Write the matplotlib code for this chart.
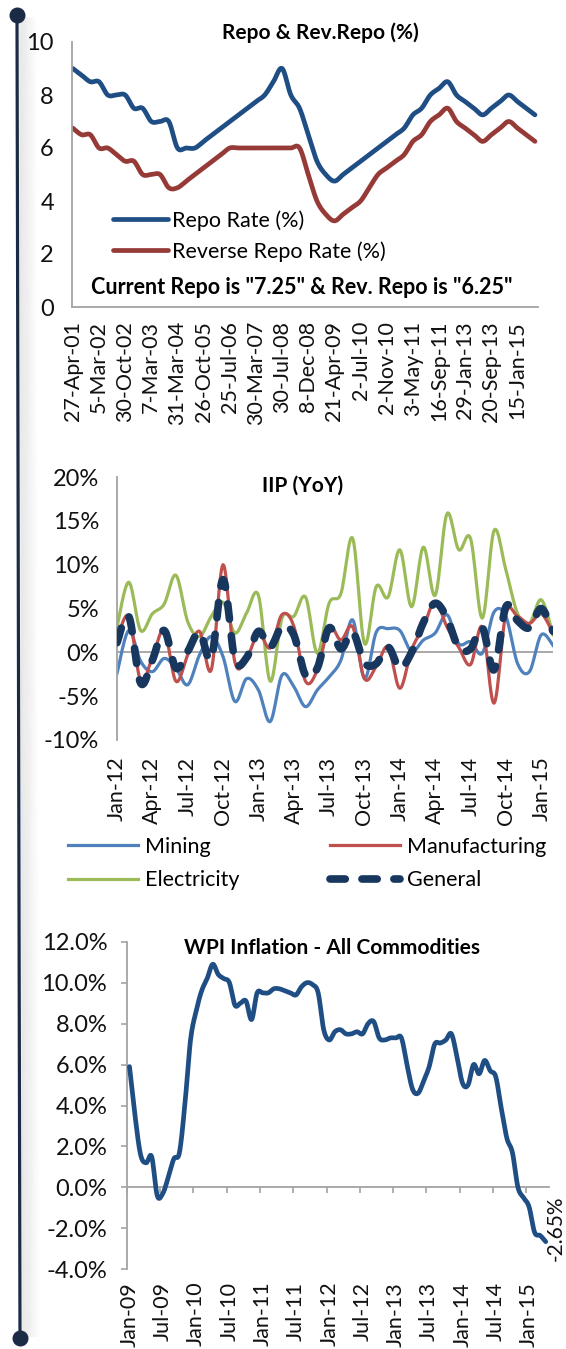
import numpy as np
import matplotlib
matplotlib.use("Agg")
import matplotlib.pyplot as plt
from matplotlib.lines import Line2D
from matplotlib.ticker import FuncFormatter

plt.rcParams['font.family'] = ['Lato', 'DejaVu Sans']
plt.rcParams['lines.scale_dashes'] = False

# ------------------------------------------------------------------ data
repo_rate = [9.0, 8.75, 8.5, 8.5, 8.0, 8.0, 8.0, 7.5, 7.5, 7.0, 7.0, 7.0, 6.0, 6.0, 6.0,
             6.25, 6.5, 6.75, 7.0, 7.25, 7.5, 7.75, 8.0, 8.5, 9.0,
             8.0, 7.5, 6.5, 5.5, 5.0, 4.75,
             5.0, 5.25, 5.5, 5.75, 6.0, 6.25, 6.5, 6.75, 7.25, 7.5, 8.0, 8.25, 8.5,
             8.0, 7.75, 7.5, 7.25, 7.5, 7.75, 8.0, 7.75, 7.5, 7.25]
reverse_repo_rate = [6.75, 6.5, 6.5, 6.0, 6.0, 5.75, 5.5, 5.5, 5.0, 5.0, 5.0, 4.5, 4.5,
                     4.75, 5.0, 5.25, 5.5, 5.75, 6.0, 6.0, 6.0, 6.0, 6.0, 6.0, 6.0, 6.0, 6.0,
                     5.0, 4.0, 3.5, 3.25,
                     3.5, 3.75, 4.0, 4.5, 5.0, 5.25, 5.5, 5.75, 6.25, 6.5, 7.0, 7.25, 7.5,
                     7.0, 6.75, 6.5, 6.25, 6.5, 6.75, 7.0, 6.75, 6.5, 6.25]
repo_tick_labels = ['27-Apr-01', '5-Mar-02', '30-Oct-02', '7-Mar-03', '31-Mar-04',
                    '26-Oct-05', '25-Jul-06', '30-Mar-07', '30-Jul-08', '8-Dec-08',
                    '21-Apr-09', '2-Jul-10', '2-Nov-10', '3-May-11', '16-Sep-11',
                    '29-Jan-13', '20-Sep-13', '15-Jan-15']

# IIP YoY growth (%), 38 monthly observations starting Jan-12
iip_mining = [-2.4, 2.5, -1.0, -2.2, -0.7, -1.8, -3.7, -0.3, 1.8, -0.5,
              -5.6, -3.0, -4.3, -7.9, -2.6, -3.9, -6.2, -4.3, -2.8, -0.9,
              3.7, -3.0, 2.3, 2.7, 2.5, 0.1, 1.4, 2.2, 4.3, 1.0,
              1.2, -0.1, 4.6, 4.1, -1.3, -2.2, 2.0, 0.8]
iip_manufacturing = [1.5, 4.1, -3.2, -0.6, 2.5, -3.3, -0.3, 2.4, -2.0, 10.0,
                     -1.1, -0.7, 2.2, 0.5, 4.3, 3.0, -3.3, -2.0, 2.9, 1.4,
                     2.9, -3.0, -1.6, 0.6, -4.1, 0.3, 2.9, 5.8, 2.9, 0.6,
                     -1.4, 2.9, -5.8, 4.4, 4.1, 3.3, 4.4, 2.2]
iip_electricity = [2.9, 8.0, 2.5, 4.4, 5.5, 8.8, 3.5, 1.8, 4.1, 5.7,
                   2.2, 4.5, 6.5, -3.3, 3.9, 4.1, 6.3, -0.1, 5.6, 6.7,
                   13.0, 1.0, 7.5, 6.3, 11.7, 5.2, 12.0, 6.5, 15.8, 11.7,
                   13.0, 3.9, 13.9, 9.4, 4.4, 3.3, 6.0, 2.0]
iip_general = [1.1, 4.1, -3.5, -0.9, 2.5, -1.8, 0.1, 2.3, -0.7, 8.3,
               -0.8, -0.6, 2.4, 0.6, 3.0, 2.0, -2.6, -1.8, 2.8, 0.4,
               2.3, -1.2, -1.3, 0.6, -1.8, 0.0, 3.4, 5.6, 3.9, 0.5,
               0.4, 2.8, -2.0, 5.2, 3.6, 2.8, 5.0, 2.4]
iip_tick_labels = ['Jan-12', 'Apr-12', 'Jul-12', 'Oct-12', 'Jan-13', 'Apr-13', 'Jul-13',
                   'Oct-13', 'Jan-14', 'Apr-14', 'Jul-14', 'Oct-14', 'Jan-15']

# WPI inflation (%), monthly Jan-09 .. Apr-15
wpi_inflation = [5.9, 3.5, 1.6, 1.2, 1.5, -0.4, -0.3, 0.5, 1.4, 1.7, 4.1, 7.2,
                 8.6, 9.6, 10.2, 10.9, 10.4, 10.2, 10.0, 8.9, 9.0, 9.1, 8.2, 9.5,
                 9.5, 9.5, 9.7, 9.7, 9.6, 9.5, 9.4, 9.8, 10.0, 9.9, 9.5, 7.7,
                 7.2, 7.6, 7.7, 7.5, 7.5, 7.6, 7.5, 8.0, 8.1, 7.3, 7.2, 7.3,
                 7.3, 7.3, 6.0, 4.8, 4.6, 5.2, 5.9, 7.0, 7.05, 7.2, 7.5, 6.4,
                 5.1, 5.0, 6.0, 5.55, 6.2, 5.7, 5.4, 3.85, 2.4, 1.7, 0.0, -0.5,
                 -0.95, -2.2, -2.35, -2.65]
wpi_tick_labels = ['Jan-09', 'Jul-09', 'Jan-10', 'Jul-10', 'Jan-11', 'Jul-11', 'Jan-12',
                   'Jul-12', 'Jan-13', 'Jul-13', 'Jan-14', 'Jul-14', 'Jan-15']


# ------------------------------------------------------------------ helpers
def smooth(values, n=14):
    """Catmull-Rom curve through the points (like Excel's smoothed line)."""
    y = np.asarray(values, float)
    x = np.arange(len(y), dtype=float)
    P = np.column_stack([x, y])
    P = np.vstack([P[0], P, P[-1]])
    t = np.linspace(0, 1, n, endpoint=False)[:, None]
    segs = []
    for i in range(1, len(P) - 2):
        p0, p1, p2, p3 = P[i - 1], P[i], P[i + 1], P[i + 2]
        segs.append(0.5 * (2 * p1 + (-p0 + p2) * t + (2 * p0 - 5 * p1 + 4 * p2 - p3) * t ** 2
                           + (-p0 + 3 * p1 - 3 * p2 + p3) * t ** 3))
    segs.append(P[-2][None, :])
    out = np.vstack(segs)
    return out[:, 0], out[:, 1]


W, H = 566, 1349
fig = plt.figure(figsize=(W / 100, H / 100), dpi=100)
fig.patch.set_facecolor('white')


def fx(px):
    return px / W


def fy(py):
    return 1 - py / H


GRAY = '#a3a3a3'
TXT = '#111111'
TICK_FS = 17
XLAB_FS = 15.5
LEG_FS = 15.5

# decorative timeline on the left
for i in range(16):
    fig.add_artist(Line2D([fx(19.5 + i * 1.1), fx(22.5 + i * 1.1)], [fy(18), fy(1336)],
                          color='#000000', alpha=0.06 * (1 - i / 16), lw=1.3))
fig.add_artist(Line2D([fx(17), fx(20)], [fy(15), fy(1338)], color='#1b2b45', lw=2.3))
fig.add_artist(Line2D([fx(17)], [fy(15)], marker='o', ms=10.5, color='#1b2b45', lw=0))
fig.add_artist(Line2D([fx(20)], [fy(1338)], marker='o', ms=10.5, color='#1b2b45', lw=0))


def style_axes(ax):
    for s in ('top', 'right'):
        ax.spines[s].set_visible(False)
    for s in ('left', 'bottom'):
        ax.spines[s].set_color(GRAY)
        ax.spines[s].set_linewidth(1.3)
    ax.set_facecolor('none')


# ------------------------------------------------------------------ chart 1
ax1 = fig.add_axes([fx(72), fy(307), fx(538) - fx(72), fy(42) - fy(307)])
style_axes(ax1)
n1 = len(repo_rate)
xs, ys = smooth(repo_rate)
l_repo, = ax1.plot(xs, ys, color='#1f4e85', lw=3.4, solid_capstyle='round',
                   solid_joinstyle='round')
xs, ys = smooth(reverse_repo_rate)
l_rev, = ax1.plot(xs, ys, color='#963a37', lw=3.4, solid_capstyle='round',
                  solid_joinstyle='round')
ax1.set_xlim(-0.1, n1 - 1 + 0.35)
ax1.set_ylim(0, 10)
ax1.set_yticks(range(0, 11, 2))
ax1.set_xticks(range(0, n1, 3))
ax1.set_xticklabels(repo_tick_labels, rotation=90, fontsize=XLAB_FS, color=TXT)
ax1.tick_params(axis='y', length=0, pad=13, labelsize=TICK_FS, labelcolor=TXT)
ax1.tick_params(axis='x', length=0, pad=10)
ax1.legend([l_repo, l_rev], ['Repo Rate (%)', 'Reverse Repo Rate (%)'],
           loc='center left', bbox_to_anchor=((113 - 72) / 466, (307 - 236) / 265),
           frameon=False, fontsize=LEG_FS, handlelength=2.55, handletextpad=0.2,
           labelspacing=0.5, borderpad=0, borderaxespad=0)
ax1.text((301.5 - 72) / 466, (307 - 288) / 265,
         'Current Repo is "7.25" & Rev. Repo is "6.25"', transform=ax1.transAxes,
         ha='center', va='center', fontsize=15.5, fontweight='bold', color='#000000')
fig.text(fx(320), fy(33), 'Repo & Rev.Repo (%)', ha='center', va='center',
         fontsize=15, fontweight='bold', color='#000000')

# ------------------------------------------------------------------ chart 2
ax2 = fig.add_axes([fx(117), fy(740), fx(553) - fx(117), fy(477) - fy(740)])
style_axes(ax2)
ax2.spines['bottom'].set_visible(False)
n2 = len(iip_general)
ax2.axhline(0, color=GRAY, lw=1.3, zorder=1)
xs, ys = smooth(iip_mining)
h_min, = ax2.plot(xs, ys, color='#4f81bd', lw=2.3, zorder=2)
xs, ys = smooth(iip_electricity)
h_ele, = ax2.plot(xs, ys, color='#9bbb59', lw=2.3, zorder=2)
xs, ys = smooth(iip_manufacturing)
h_man, = ax2.plot(xs, ys, color='#c0504d', lw=2.3, zorder=3)
xs, ys = smooth(iip_general)
h_gen, = ax2.plot(xs, ys, color='#17375e', lw=5.5, zorder=4, dash_capstyle='round')
h_gen.set_dashes((11, 12))
ax2.set_xlim(0, n2 - 1)
ax2.set_ylim(-10, 20)
ax2.set_yticks(range(-10, 21, 5))
ax2.yaxis.set_major_formatter(FuncFormatter(lambda v, p: f'{v:.0f}%'))
ax2.set_xticks(range(0, n2, 3))
ax2.set_xticklabels(iip_tick_labels, rotation=90, fontsize=XLAB_FS, color=TXT)
ax2.tick_params(axis='y', length=0, pad=13, labelsize=TICK_FS, labelcolor=TXT)
ax2.tick_params(axis='x', length=0, pad=12)
fig.text(fx(303), fy(486), 'IIP (YoY)', ha='center', va='center',
         fontsize=15, fontweight='bold', color='#000000')

leg_kw = dict(frameon=False, fontsize=LEG_FS, handlelength=3.25, handletextpad=0.33,
              labelspacing=0.62, borderpad=0, borderaxespad=0, loc='center left')
leg_a = fig.legend([h_min, h_ele], ['Mining', 'Electricity'],
                   bbox_to_anchor=(fx(68), fy(863.5)), **leg_kw)
leg_b = fig.legend([h_man, h_gen], ['Manufacturing', 'General'],
                   bbox_to_anchor=(fx(330), fy(863.5)), **leg_kw)

# ------------------------------------------------------------------ chart 3
ax3 = fig.add_axes([fx(126.7), fy(1269.3), fx(548.5) - fx(126.7), fy(941.7) - fy(1269.3)])
style_axes(ax3)
n3 = len(wpi_inflation)
xs, ys = smooth(wpi_inflation)
ax3.plot(xs, ys, color='#1f4e85', lw=3.4, solid_capstyle='round', solid_joinstyle='round',
         zorder=3)
ax3.set_xlim(-0.5, n3 - 0.5)
ax3.set_ylim(-4, 12)
ax3.set_yticks(range(-4, 13, 2))
ax3.yaxis.set_major_formatter(FuncFormatter(lambda v, p: f'{v:.1f}%'))
ax3.tick_params(axis='y', length=4, width=1.2, color=GRAY, pad=10,
                labelsize=TICK_FS, labelcolor=TXT)
# horizontal axis line crossing at zero with tick marks at category boundaries
ax3.spines['bottom'].set_position(('data', 0))
ax3.set_xticks(np.arange(-0.5, n3 - 1, 6))
ax3.set_xticklabels([])
ax3.tick_params(axis='x', length=4, width=1.2, color=GRAY, direction='out')
sec = ax3.secondary_xaxis('bottom')
sec.spines['bottom'].set_visible(False)
sec.set_xticks(range(0, n3, 6))
sec.set_xticklabels(wpi_tick_labels, rotation=90, fontsize=XLAB_FS, color=TXT)
sec.tick_params(axis='x', length=0, pad=9)
ax3.annotate(f'{wpi_inflation[-1]:.2f}%', (n3 - 1, wpi_inflation[-1]), xytext=(7, 10),
             textcoords='offset points', rotation=90, ha='center', va='center',
             fontsize=15, color=TXT)
fig.text(fx(332), fy(948), 'WPI Inflation - All Commodities', ha='center', va='center',
         fontsize=15, fontweight='bold', color='#000000')

fig.savefig('out.png', dpi=100, facecolor='white')
